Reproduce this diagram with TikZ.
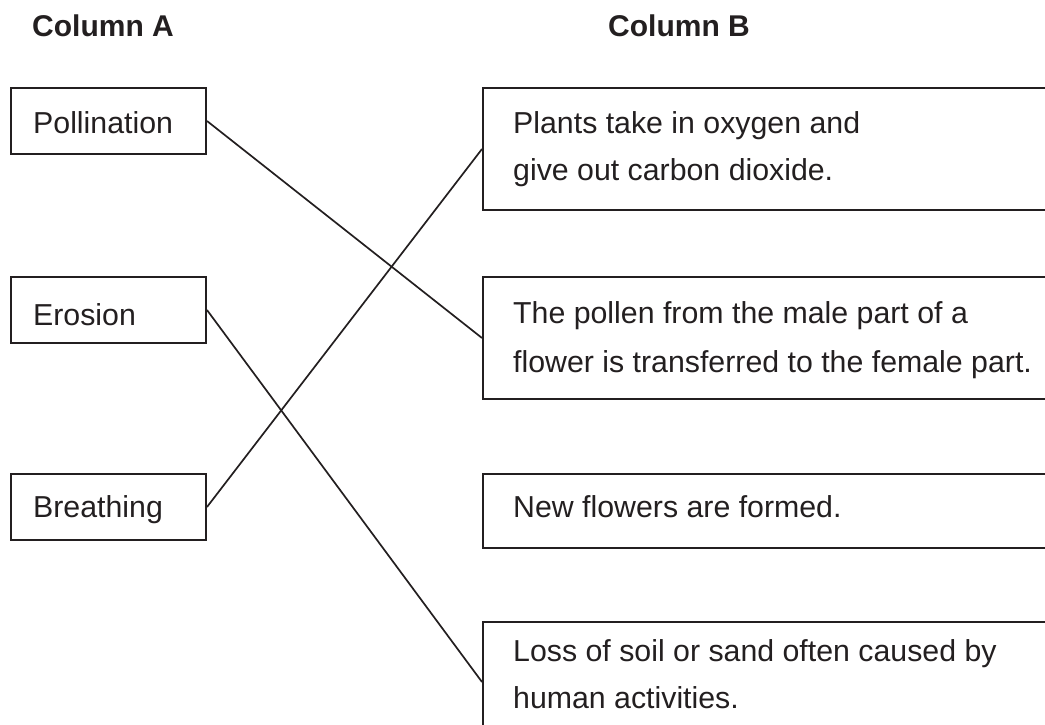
\documentclass[tikz,border=0pt]{standalone}
\usepackage{fontspec}
\setmainfont{Liberation Sans}
\definecolor{ink}{HTML}{231F20}
\begin{document}
\begin{tikzpicture}[x=1pt,y=-1pt,
  lbox/.style={draw=ink, line width=2pt, rectangle, inner sep=0pt, anchor=north west,
    minimum width=195pt, minimum height=66pt},
  rbox/.style={draw=ink, line width=2pt, rectangle, inner sep=0pt, anchor=north west,
    minimum width=620pt},
  txt/.style={text=ink, inner sep=0pt, anchor=base west, font=\fontsize{30.3}{36}\selectfont},
  head/.style={txt, font=\fontsize{30}{36}\selectfont\bfseries},
  conn/.style={draw=ink, line width=1.7pt}]
\useasboundingbox (0,0) rectangle (1045,725);
\clip (0,0) rectangle (1045,725);
% headers
\node[head] (ha) at (32,37) {Column A};
\node[head] (hb) at (608,37) {Column B};
% column A boxes
\node[lbox] (pol) at (10,87) {};
\node[lbox] (ero) at (10,276) {};
\node[lbox] (bre) at (10,473) {};
\node[txt] (tpol) at (33,133) {Pollination};
\node[txt] (tero) at (33,325) {Erosion};
\node[txt] (tbre) at (33,517) {Breathing};
% column B boxes
\node[rbox, minimum height=122pt] (b1) at (482,87) {};
\node[rbox, minimum height=122pt] (b2) at (482,276) {};
\node[rbox, minimum height=74pt] (b3) at (482,473) {};
\node[rbox, minimum height=120pt] (b4) at (482,621) {};
\node[txt] (t1a) at (513,133) {Plants take in oxygen and};
\node[txt] (t1b) at (513,180) {give out carbon dioxide.};
\node[txt] (t2a) at (513,323) {The pollen from the male part of a};
\node[txt] (t2b) at (513,372) {flower is transferred to the female part.};
\node[txt] (t3a) at (513,517) {New flowers are formed.};
\node[txt] (t4a) at (513,661) {Loss of soil or sand often caused by};
\node[txt] (t4b) at (513,708) {human activities.};
% connectors
\draw[conn] (pol.east) -- (b2.west);
\draw[conn] (ero.east) -- (b4.west);
\draw[conn] (bre.east) -- (b1.west);
\end{tikzpicture}
\end{document}
